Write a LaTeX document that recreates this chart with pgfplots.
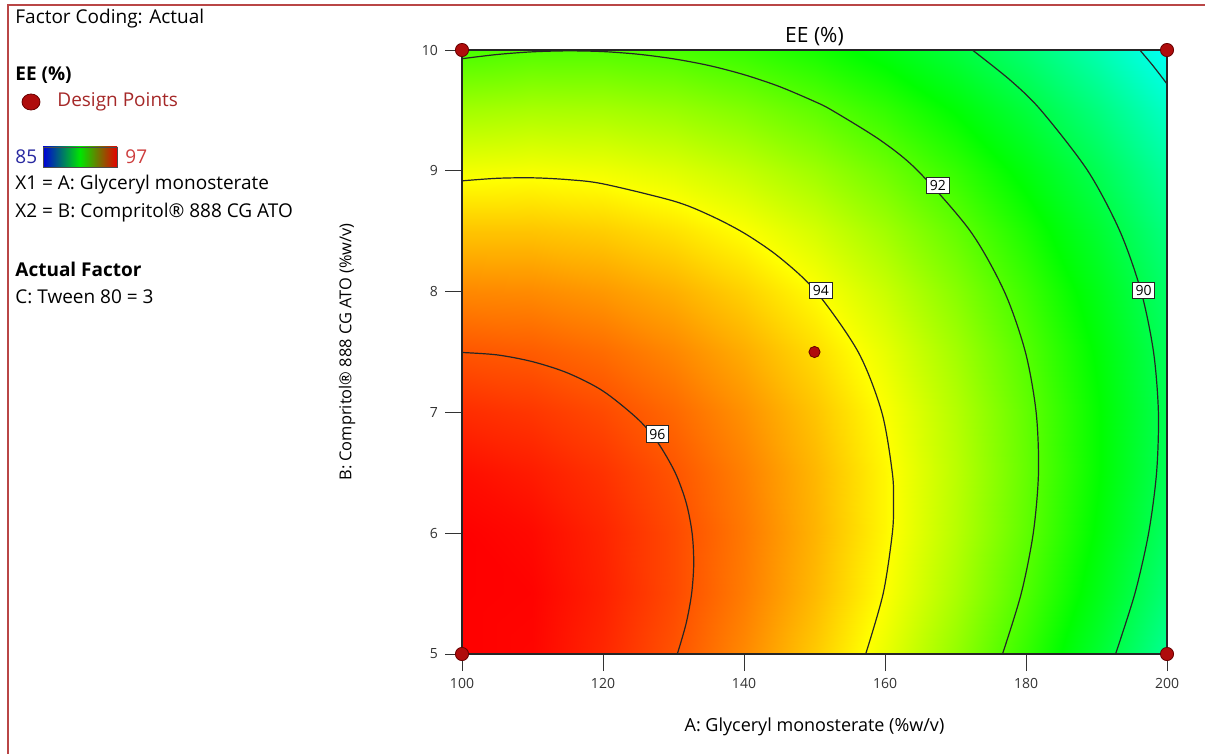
\documentclass[border=0pt]{standalone}
\usepackage{pgfplots}
\pgfplotsset{compat=1.18}
\usetikzlibrary{shapes.geometric}
\usepackage{fontspec}
\setmainfont{Open Sans}
\definecolor{dpfill}{RGB}{175,12,12}
\definecolor{dpdraw}{RGB}{105,0,0}
\definecolor{frame}{RGB}{185,70,70}
\definecolor{dptext}{RGB}{165,40,40}
\definecolor{lblue}{RGB}{40,40,160}
\definecolor{lred}{RGB}{205,60,60}
\pgfplotsset{colormap={ee}{rgb255(0cm)=(0,0,255); rgb255(2.5cm)=(0,255,255); rgb255(6cm)=(0,255,0); rgb255(9cm)=(255,255,0); rgb255(12cm)=(255,0,0)}}
\begin{document}
\begin{tikzpicture}
\useasboundingbox (0,0) rectangle (602.5pt,-377pt);
\begin{scope}[x=0.5pt,y=-0.5pt]
\draw[frame, line width=0.7pt] (8,754) -- (8,5) -- (1205,5);
\node[anchor=west, inner sep=0pt, font=\fontsize{9.5}{11}\selectfont] at (15,19) {Factor Coding: Actual};
\node[anchor=west, inner sep=0pt, font=\fontsize{9.5}{11}\selectfont\bfseries] at (15,75) {EE (\%)};
\node[ellipse, minimum width=9pt, minimum height=8pt, inner sep=0pt, fill=dpfill, draw=dpdraw, line width=0.4pt] at (31,102) {};
\node[anchor=west, inner sep=0pt, text=dptext, font=\fontsize{9.5}{11}\selectfont] at (57,102) {Design Points};
\node[anchor=west, inner sep=0pt, text=lblue, font=\fontsize{9.5}{11}\selectfont] at (15,157) {85};
\shade[left color=blue!85!black, right color=red!90!black, middle color=green!90!black] (43,147) rectangle (117,167);
\draw[black!70, line width=0.4pt] (43,147) rectangle (117,167);
\node[anchor=west, inner sep=0pt, text=lred, font=\fontsize{9.5}{11}\selectfont] at (125,157) {97};
\node[anchor=west, inner sep=0pt, font=\fontsize{9.5}{11}\selectfont] at (15,185) {X1 = A: Glyceryl monosterate};
\node[anchor=west, inner sep=0pt, font=\fontsize{9.5}{11}\selectfont] at (15,213) {X2 = B: Compritol® 888 CG ATO};
\node[anchor=west, inner sep=0pt, font=\fontsize{9.5}{11}\selectfont\bfseries] at (15,269) {Actual Factor};
\node[anchor=west, inner sep=0pt, font=\fontsize{9.5}{11}\selectfont] at (15,297) {C: Tween 80 = 3};
\end{scope}
\begin{axis}[
  at={(231pt,-327pt)}, anchor=south west,
  scale only axis, width=352.5pt, height=302pt,
  xmin=100, xmax=200, ymin=5, ymax=10,
  xtick={100,120,140,160,180,200}, ytick={5,6,7,8,9,10},
  xtick pos=bottom, ytick pos=left,
  tick align=outside, major tick length=8.5pt,
  tick style={black!80, line width=0.5pt},
  axis line style={black!85, line width=0.8pt},
  axis on top=true, clip=false,
  colormap name=ee, point meta min=85, point meta max=97,
  ticklabel style={font=\fontsize{7}{8}\selectfont, text=black!80},
  /pgf/number format/assume math mode=true,
  every axis title shift=0pt,
  title={EE (\%)},
  title style={at={(axis description cs:0.5,1.0215)}, anchor=center, font=\fontsize{10.5}{12}\selectfont},
  xlabel={A: Glyceryl monosterate (\%w/v)},
  xlabel style={at={(axis description cs:0.5,-0.121)}, anchor=center, font=\fontsize{9}{10}\selectfont},
  ylabel={B: Compritol® 888 CG ATO (\%w/v)},
  ylabel style={at={(axis description cs:-0.163,0.5)}, anchor=center, font=\fontsize{8.2}{9}\selectfont},
]
\addplot[surf, shader=interp, mesh/cols=11, point meta=\thisrow{f}] table {
x y f
100 5 97.22
110 5 96.94
120 5 96.55
130 5 96.03
140 5 95.39
150 5 94.63
160 5 93.75
170 5 92.74
180 5 91.61
190 5 90.36
200 5 88.99
100 5.5 97.21
110 5.5 96.97
120 5.5 96.62
130 5.5 96.14
140 5.5 95.54
150 5.5 94.82
160 5.5 93.98
170 5.5 93.01
180 5.5 91.92
190 5.5 90.71
200 5.5 89.38
100 6 97.08
110 6 96.89
120 6 96.57
130 6 96.14
140 6 95.58
150 6 94.89
160 6 94.09
170 6 93.16
180 6 92.12
190 6 90.94
200 6 89.65
100 6.5 96.84
110 6.5 96.68
120 6.5 96.41
130 6.5 96.01
140 6.5 95.49
150 6.5 94.85
160 6.5 94.09
170 6.5 93.20
180 6.5 92.19
190 6.5 91.06
200 6.5 89.81
100 7 96.48
110 7 96.36
120 7 96.13
130 7 95.77
140 7 95.29
150 7 94.69
160 7 93.97
170 7 93.12
180 7 92.15
190 7 91.06
200 7 89.85
100 7.5 96.00
110 7.5 95.92
120 7.5 95.73
130 7.5 95.41
140 7.5 94.97
150 7.5 94.41
160 7.5 93.73
170 7.5 92.92
180 7.5 91.99
190 7.5 90.94
200 7.5 89.77
100 8 95.40
110 8 95.37
120 8 95.21
130 8 94.94
140 8 94.54
150 8 94.01
160 8 93.37
170 8 92.60
180 8 91.72
190 8 90.70
200 8 89.57
100 8.5 94.69
110 8.5 94.69
120 8.5 94.58
130 8.5 94.34
140 8.5 93.98
150 8.5 93.50
160 8.5 92.90
170 8.5 92.17
180 8.5 91.32
190 8.5 90.35
200 8.5 89.26
100 9 93.86
110 9 93.90
120 9 93.83
130 9 93.63
140 9 93.31
150 9 92.87
160 9 92.31
170 9 91.62
180 9 90.81
190 9 89.88
200 9 88.83
100 9.5 92.91
110 9.5 92.99
120 9.5 92.96
130 9.5 92.80
140 9.5 92.52
150 9.5 92.12
160 9.5 91.60
170 9.5 90.95
180 9.5 90.18
190 9.5 89.29
200 9.5 88.28
100 10 91.84
110 10 91.97
120 10 91.97
130 10 91.86
140 10 91.62
150 10 91.25
160 10 90.77
170 10 90.16
180 10 89.44
190 10 88.58
200 10 87.61
};
% contour 96
\addplot[black!85, line width=0.6pt, smooth] coordinates {(100,7.496) (105,7.476) (110,7.42) (115,7.326) (120,7.177) (125,6.942) (127.78,6.75) (130.25,6.5) (131.81,6.25) (132.64,6.0) (132.87,5.75) (132.57,5.5) (131.78,5.25) (130.54,5.0)};
% contour 94
\addplot[black!85, line width=0.6pt, smooth] coordinates {(100,8.917) (105,8.938) (110,8.942) (115,8.927) (120,8.892) (130,8.75) (135,8.636) (140,8.485) (145,8.285) (150.23,8.0) (156.2,7.5) (159.55,7.0) (161.04,6.5) (161.21,6.25) (161.04,6.0) (159.74,5.5) (157.26,5.0)};
% contour 92
\addplot[black!85, line width=0.6pt, smooth] coordinates {(100,9.928) (105,9.963) (110,9.985) (115,9.993) (120,9.987) (125,9.965) (130,9.927) (135,9.872) (140,9.796) (145,9.698) (150,9.574) (152.51,9.5) (159.42,9.25) (164.66,9.0) (172.11,8.5) (176.93,8.0) (179.91,7.5) (181.44,7.0) (181.77,6.5) (181.03,6.0) (179.32,5.5) (176.67,5.0)};
% contour 90
\addplot[black!85, line width=0.6pt, smooth] coordinates {(172.39,10) (177.77,9.75) (182.14,9.5) (188.76,9.0) (193.32,8.5) (196.33,8.0) (198.09,7.5) (198.78,7.0) (198.52,6.5) (197.39,6.0) (195.44,5.5) (192.7,5.0)};
% contour 88
\addplot[black!85, line width=0.6pt, smooth] coordinates {(196.14,10) (197.94,9.875) (199.6,9.75) (200,9.7175)};
% contour labels
\addplot[draw=none, nodes near coords, point meta=explicit symbolic, nodes near coords align={center},
  every node near coord/.style={draw=black!85, fill=white, inner sep=1.6pt, line width=0.45pt, font=\fontsize{7}{8}\selectfont}]
  coordinates {(127.7,6.82)[96] (150.9,8.01)[94] (167.5,8.88)[92] (196.7,8.01)[90]};
% design points
\addplot[only marks, mark=*, mark size=3.3pt, mark options={fill=dpfill, draw=dpdraw, line width=0.4pt}]
  coordinates {(100,5) (100,10) (200,5) (200,10)};
\addplot[only marks, mark=*, mark size=2.8pt, mark options={fill=dpfill, draw=dpdraw, line width=0.4pt}]
  coordinates {(150,7.5)};
\end{axis}
\end{tikzpicture}
\end{document}
